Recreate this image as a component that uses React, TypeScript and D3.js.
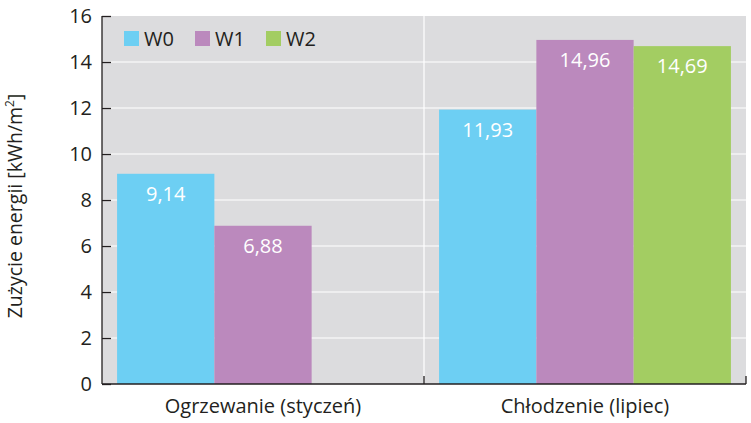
import { useEffect, useRef } from "react"
import * as d3 from "d3"

const CATEGORIES = ["Ogrzewanie (styczeń)", "Chłodzenie (lipiec)"]
const SERIES = ["W0", "W1", "W2"]
const W0 = [9.14, 11.93]
const W1 = [6.88, 14.96]
const W2 = [null, 14.69]
const LABELS_W0 = ["9,14", "11,93"]
const LABELS_W1 = ["6,88", "14,96"]
const LABELS_W2 = ["", "14,69"]
const Y_TICKS = [0, 2, 4, 6, 8, 10, 12, 14, 16]
const COLORS = ["#6dcff3", "#bb89bd", "#a3cd62"]

const FONT = "'Open Sans', sans-serif"

export default function App() {
    const svgRef = useRef<SVGSVGElement>(null)

    useEffect(() => {
        const width = 751
        const height = 423
        const margin = { left: 102, right: 5, top: 16, bottom: 39 }
        const svg = d3.select(svgRef.current)
            .attr("width", width)
            .attr("height", height)
        svg.selectAll("*").remove()

        const x = d3.scaleBand<string>()
            .domain(CATEGORIES)
            .range([margin.left, width - margin.right])
        const x1 = d3.scaleBand<string>()
            .domain(SERIES)
            .range([0, x.bandwidth()])
            .paddingOuter(0.155)
        const y = d3.scaleLinear()
            .domain([0, 16])
            .range([height - margin.bottom, margin.top])

        // background
        svg.append("rect")
            .attr("x", margin.left)
            .attr("y", y(16))
            .attr("width", width - margin.right - margin.left)
            .attr("height", y(0) - y(16))
            .attr("fill", "#dcdcde")

        // grid
        svg.append("g").selectAll("line")
            .data(Y_TICKS.slice(1, -1))
            .join("line")
            .attr("x1", margin.left)
            .attr("x2", width - margin.right)
            .attr("y1", d => y(d))
            .attr("y2", d => y(d))
            .attr("stroke", "white")
            .attr("stroke-width", 1.2)
        svg.append("line")
            .attr("x1", x(CATEGORIES[1])!)
            .attr("x2", x(CATEGORIES[1])!)
            .attr("y1", y(16))
            .attr("y2", y(0))
            .attr("stroke", "white")
            .attr("stroke-width", 1.2)

        // bars
        const values = [W0, W1, W2]
        const labels = [LABELS_W0, LABELS_W1, LABELS_W2]
        SERIES.forEach((s, si) => {
            CATEGORIES.forEach((c, ci) => {
                const v = values[si][ci]
                if (v == null) return
                const bx = x(c)! + x1(s)!
                svg.append("rect")
                    .attr("x", bx)
                    .attr("y", y(v))
                    .attr("width", x1.bandwidth())
                    .attr("height", y(0) - y(v))
                    .attr("fill", COLORS[si])
                svg.append("text")
                    .attr("x", bx + x1.bandwidth() / 2)
                    .attr("y", y(v) + 27)
                    .attr("text-anchor", "middle")
                    .attr("fill", "white")
                    .attr("font-family", FONT)
                    .attr("font-size", 20)
                    .text(labels[si][ci])
            })
        })

        // y axis
        const yAxis = svg.append("g")
            .attr("transform", `translate(${margin.left},0)`)
            .call(d3.axisRight(y).tickValues(Y_TICKS).tickSize(9).tickFormat(d => String(d)))
        yAxis.select(".domain").remove()
        yAxis.selectAll(".tick text")
            .attr("x", -10)
            .attr("text-anchor", "end")
            .attr("font-family", FONT)
            .attr("font-size", 20)
            .attr("fill", "#231f20")
        yAxis.selectAll(".tick line").attr("stroke", "#231f20").attr("stroke-width", 1.3)
        svg.append("line")
            .attr("x1", margin.left).attr("x2", margin.left)
            .attr("y1", y(16)).attr("y2", y(0))
            .attr("stroke", "#231f20").attr("stroke-width", 1.3)

        // x axis
        svg.append("line")
            .attr("x1", margin.left).attr("x2", width - margin.right)
            .attr("y1", y(0)).attr("y2", y(0))
            .attr("stroke", "#231f20").attr("stroke-width", 1.3)
        svg.append("g").selectAll("line")
            .data(CATEGORIES)
            .join("line")
            .attr("x1", d => x(d)! + x.bandwidth())
            .attr("x2", d => x(d)! + x.bandwidth())
            .attr("y1", y(0))
            .attr("y2", y(0) - 8)
            .attr("stroke", "#231f20")
            .attr("stroke-width", 1.3)
        svg.append("g").selectAll("text")
            .data(CATEGORIES)
            .join("text")
            .attr("x", d => x(d)! + x.bandwidth() / 2)
            .attr("y", 413)
            .attr("text-anchor", "middle")
            .attr("font-family", FONT)
            .attr("font-size", 20)
            .attr("fill", "#231f20")
            .text(d => d)

        // y title
        const title = svg.append("text")
            .attr("transform", `translate(22,${(y(0) + y(16)) / 2 + 6}) rotate(-90)`)
            .attr("text-anchor", "middle")
            .attr("font-family", FONT)
            .attr("font-size", 19.5)
            .attr("fill", "#231f20")
        title.append("tspan").text("Zużycie energii [kWh/m")
        title.append("tspan").attr("font-size", 12).attr("dy", -8).text("2")
        title.append("tspan").attr("dy", 8).text("]")

        // legend
        const legendX = [124, 195, 266]
        const legend = svg.append("g")
        SERIES.forEach((s, i) => {
            legend.append("rect")
                .attr("x", legendX[i])
                .attr("y", 31)
                .attr("width", 15)
                .attr("height", 15)
                .attr("fill", COLORS[i])
            legend.append("text")
                .attr("x", legendX[i] + 20)
                .attr("y", 46)
                .attr("font-family", FONT)
                .attr("font-size", 20)
                .attr("fill", "#231f20")
                .text(s)
        })
    }, [])

    return (
        <div style={{ position: "absolute", left: 0, top: 0 }}>
            <svg ref={svgRef} style={{ display: "block" }} />
        </div>
    )
}
